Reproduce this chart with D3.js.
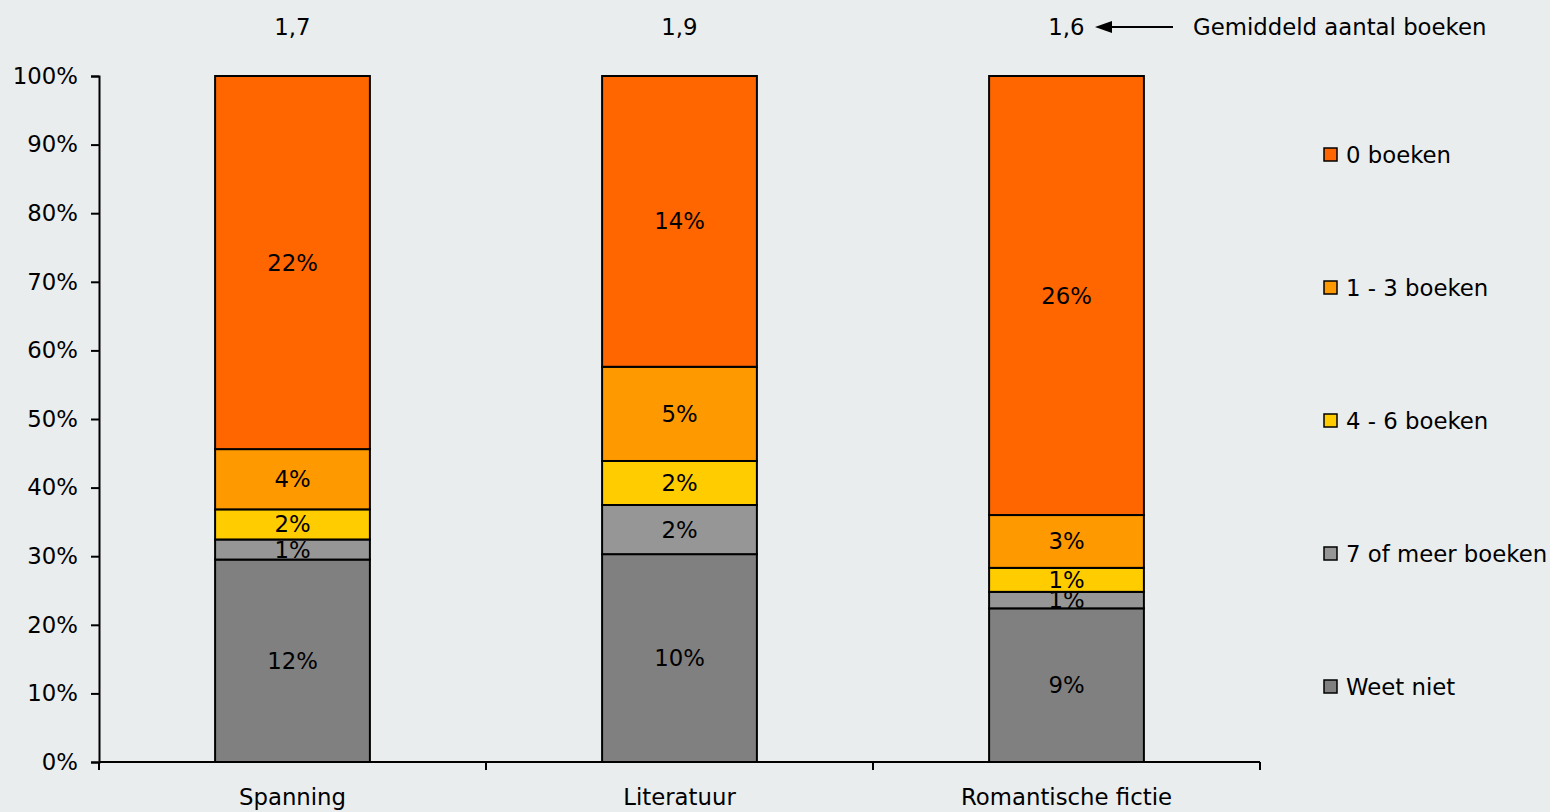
<!DOCTYPE html>
<html><head><meta charset="utf-8">
<script src="https://cdn.jsdelivr.net/npm/d3@7"></script>
<style>
html,body{margin:0;padding:0;background:#EAEDEE;}
text{font-family:"DejaVu Sans",Verdana,sans-serif;fill:#000;}
</style></head>
<body>
<svg id="chart" width="1550" height="812"></svg>
<script>
const categories = ["Spanning", "Literatuur", "Romantische fictie"];
const seriesNames = ["Weet niet", "7 of meer boeken", "4 - 6 boeken", "1 - 3 boeken", "0 boeken"];
const seriesColors = ["#808080", "#969696", "#FFCC00", "#FF9900", "#FF6600"];
// values per category (percent of respondents), bottom to top
const weetNiet   = [12.1, 10.15, 8.96];
const zevenPlus  = [1.2, 2.4, 0.96];
const vierZes    = [1.8, 2.15, 1.4];
const eenDrie    = [3.6, 4.6, 3.08];
const nulBoeken  = [22.3, 14.2, 25.6];
const gemiddeld  = ["1,7", "1,9", "1,6"];
const yTicks = [0, 0.1, 0.2, 0.3, 0.4, 0.5, 0.6, 0.7, 0.8, 0.9, 1.0];

const seriesValues = [weetNiet, zevenPlus, vierZes, eenDrie, nulBoeken];
const FS = 22.8;

const svg = d3.select("#chart");
const pLeft = 99, pRight = 1260, pTop = 76, pBottom = 762;

const x = d3.scaleBand().domain(categories).range([pLeft, pRight]).paddingInner(0.6).paddingOuter(0.3);
const y = d3.scaleLinear().domain([0, 1]).range([pBottom, pTop]);

const rows = categories.map((c, i) => {
  const r = {cat: c};
  seriesNames.forEach((s, j) => r[s] = seriesValues[j][i]);
  return r;
});
const stack = d3.stack().keys(seriesNames).offset(d3.stackOffsetExpand);
const stacked = stack(rows);

const g = svg.append("g");
stacked.forEach((layer, j) => {
  layer.forEach((d, i) => {
    g.append("rect")
      .attr("x", x(categories[i]))
      .attr("y", y(d[1]))
      .attr("width", x.bandwidth())
      .attr("height", y(d[0]) - y(d[1]))
      .attr("fill", seriesColors[j])
      .attr("stroke", "#000")
      .attr("stroke-width", 2);
  });
});
stacked.forEach((layer, j) => {
  layer.forEach((d, i) => {
    g.append("text")
      .attr("x", x(categories[i]) + x.bandwidth() / 2)
      .attr("y", (y(d[0]) + y(d[1])) / 2)
      .attr("text-anchor", "middle")
      .attr("dominant-baseline", "central")
      .attr("font-size", FS)
      .text(Math.round(seriesValues[j][i]) + "%");
  });
});

// y axis
const yAxis = d3.axisLeft(y).tickValues(yTicks).tickFormat(d3.format(".0%")).tickSize(8).tickPadding(13);
const ya = svg.append("g").attr("transform", `translate(${pLeft},0)`).call(yAxis);
ya.selectAll("text").attr("font-size", FS).style("font-family", '"DejaVu Sans",sans-serif');
ya.selectAll("line,path").attr("stroke", "#000").attr("stroke-width", 2);

// x axis
const xAxis = d3.axisBottom(x).tickSize(0).tickPadding(27);
const xa = svg.append("g").attr("transform", `translate(0,${pBottom})`).call(xAxis);
xa.select("path").attr("d", `M${pLeft},0H${pRight}`).attr("stroke", "#000").attr("stroke-width", 2);
xa.selectAll("text").attr("font-size", FS).style("font-family", '"DejaVu Sans",sans-serif');
const step = x.step();
const bounds = d3.range(categories.length + 1).map(i => pLeft + i * step);
xa.selectAll(".bt").data(bounds).enter().append("line")
  .attr("x1", d => d).attr("x2", d => d).attr("y1", 0).attr("y2", 8)
  .attr("stroke", "#000").attr("stroke-width", 2);

// average labels
categories.forEach((c, i) => {
  svg.append("text")
    .attr("x", x(c) + x.bandwidth() / 2)
    .attr("y", 27)
    .attr("text-anchor", "middle")
    .attr("dominant-baseline", "central")
    .attr("font-size", FS)
    .text(gemiddeld[i]);
});
// arrow
svg.append("line")
  .attr("x1", 1173).attr("y1", 27).attr("x2", 1105).attr("y2", 27)
  .attr("stroke", "#000").attr("stroke-width", 2);
svg.append("path").attr("d", "M1095,27L1112,21L1112,33Z").attr("fill", "#000");
svg.append("text")
  .attr("x", 1193).attr("y", 27)
  .attr("dominant-baseline", "central")
  .attr("font-size", FS)
  .text("Gemiddeld aantal boeken");

// legend
const legendOrder = seriesNames.slice().reverse();
const legendColors = seriesColors.slice().reverse();
const legendY = d3.scalePoint().domain(legendOrder).range([155, 687]);
legendOrder.forEach((s, i) => {
  const ly = legendY(s);
  svg.append("rect").attr("x", 1324).attr("y", ly - 7).attr("width", 13).attr("height", 13)
    .attr("fill", legendColors[i]).attr("stroke", "#000").attr("stroke-width", 1.5);
  svg.append("text").attr("x", 1346).attr("y", ly)
    .attr("dominant-baseline", "central").attr("font-size", FS).text(s);
});
</script>
</body></html>
